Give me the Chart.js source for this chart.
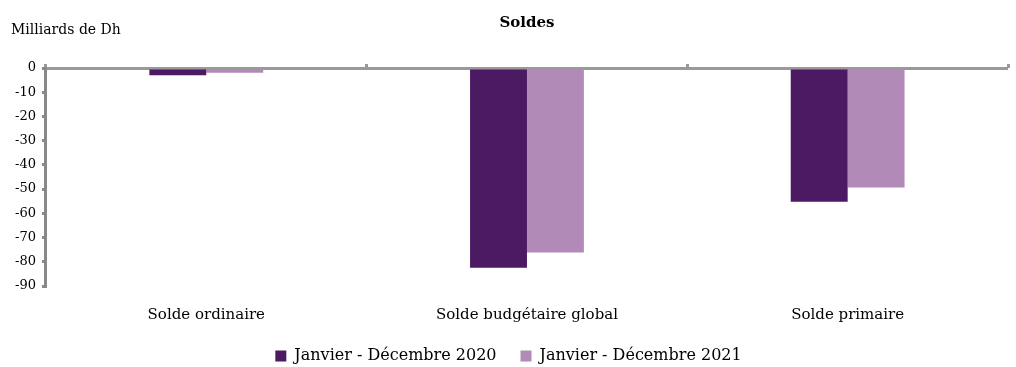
<!DOCTYPE html>
<html>
<head>
<meta charset="utf-8">
<script src="https://cdn.jsdelivr.net/npm/chart.js@4"></script>
<style>
  html, body { margin: 0; padding: 0; background: #fff; }
  #wrap { width: 1016px; height: 367px; }
</style>
</head>
<body>
<div id="wrap"><canvas id="chart" width="1016" height="367"></canvas></div>
<script>
// data
const categories = ['Solde ordinaire', 'Solde budgétaire global', 'Solde primaire'];
const labels2020 = 'Janvier - Décembre 2020';
const labels2021 = 'Janvier - Décembre 2021';
const values2020 = [-3, -82.5, -55.2];
const values2021 = [-2, -76.2, -49.3];
const yTicks = [0, -10, -20, -30, -40, -50, -60, -70, -80, -90];

const serif = "'DejaVu Serif', 'Liberation Serif', serif";

// unit label drawn top-left
const unitLabel = {
  id: 'unitLabel',
  afterDraw(chart) {
    const ctx = chart.ctx;
    ctx.save();
    ctx.font = '14px ' + serif;
    ctx.fillStyle = '#000';
    ctx.textBaseline = 'middle';
    ctx.fillText('Milliards de Dh', 11, 30);
    ctx.restore();
  }
};

new Chart(document.getElementById('chart'), {
  type: 'bar',
  data: {
    labels: categories,
    datasets: [
      {
        label: labels2020,
        data: values2020,
        backgroundColor: '#4b1a63',
        xAxisID: 'x',
      },
      {
        label: labels2021,
        data: values2021,
        backgroundColor: '#b18ab8',
        xAxisID: 'x',
      },
    ],
  },
  options: {
    responsive: false,
    animation: false,
    layout: {
      padding: { left: 9, right: 8, top: 6, bottom: -11 },
    },
    datasets: {
      bar: {
        barPercentage: 1,
        categoryPercentage: 0.355,
      },
    },
    scales: {
      x: {
        position: 'bottom',
        grid: { display: false, drawTicks: false },
        border: { display: false },
        ticks: {
          color: '#000',
          padding: 24,
          font: { family: serif, size: 15 },
        },
        afterFit: (axis) => { axis.height = 42; },
      },
      // only used for the small marks between categories on the zero line
      x2: {
        type: 'category',
        labels: categories,
        position: 'top',
        offset: true,
        grid: {
          offset: true,
          drawOnChartArea: false,
          color: '#999',
          lineWidth: 3,
          tickLength: -4,
        },
        border: { display: false },
        ticks: { display: false },
      },
      y: {
        min: -90,
        max: 0,
        afterBuildTicks: (axis) => {
          axis.ticks = yTicks.map((v) => ({ value: v }));
        },
        grid: {
          drawOnChartArea: true,
          color: (ctx) => (ctx.tick && ctx.tick.value === 0 ? '#999' : 'rgba(0,0,0,0)'),
          tickColor: '#888',
          lineWidth: 3,
          tickLength: 4,
        },
        border: { display: true, color: '#888', width: 3 },
        ticks: {
          color: '#000',
          padding: 6,
          autoSkip: false,
          font: { family: serif, size: 13 },
        },
      },
    },
    plugins: {
      title: {
        display: true,
        text: 'Soldes',
        fullSize: false,
        color: '#000',
        font: { family: serif, size: 15, weight: 'bold' },
        padding: { top: 8, bottom: 36 },
      },
      legend: {
        position: 'bottom',
        labels: {
          color: '#000',
          boxWidth: 11,
          boxHeight: 11,
          padding: 24,
          font: { family: serif, size: 16 },
        },
      },
      tooltip: { enabled: false },
    },
  },
  plugins: [unitLabel],
});
</script>
</body>
</html>
